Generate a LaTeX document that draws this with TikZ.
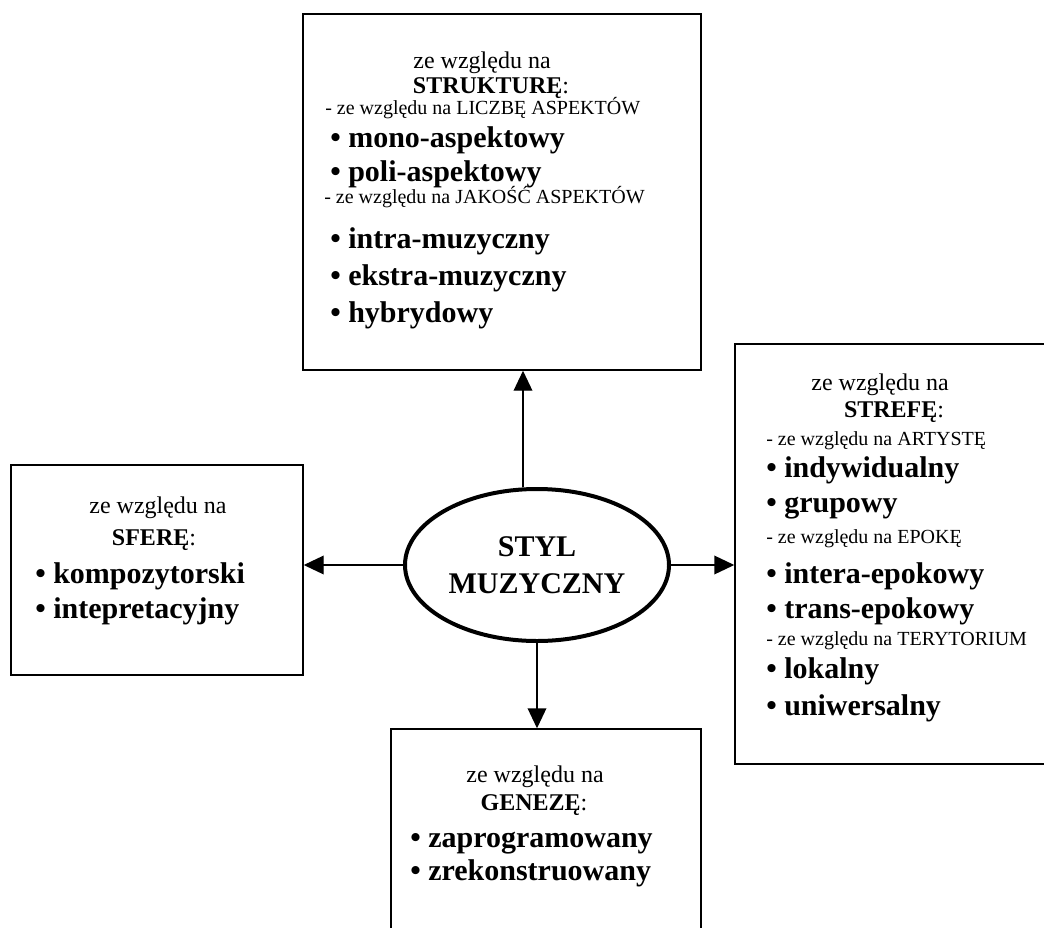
\documentclass[tikz,border=0pt]{standalone}
\usepackage{fontspec}
\setmainfont{Liberation Serif}
\usetikzlibrary{arrows.meta,shapes.geometric}
\begin{document}
\begin{tikzpicture}[x=0.75pt,y=-0.75pt,
  box/.style={draw,line width=1.1pt,rectangle,inner sep=0pt},
  oval/.style={draw,line width=3pt,ellipse,inner sep=0pt,minimum width=198pt,minimum height=114pt,align=center,font=\fontsize{22.5}{27.5}\selectfont\bfseries},
  hd/.style={anchor=base,inner sep=0pt,font=\fontsize{18}{21}\selectfont},
  sm/.style={anchor=base west,inner sep=0pt,font=\fontsize{15}{18}\selectfont},
  it/.style={anchor=base west,inner sep=0pt,font=\fontsize{22.5}{27}\selectfont\bfseries},
  arr/.style={line width=1.1pt,-{Triangle[length=15pt,width=14pt]}}]
\clip (0,0) rectangle (1044,927);
\fill[white] (0,0) rectangle (1044,927);
% boxes
\node[box,minimum width=298.5pt,minimum height=267pt] (top) at (502,192) {};
\node[box,minimum width=251.25pt,minimum height=315pt] (right) at (902.5,554) {};
\node[box,minimum width=219pt,minimum height=157.5pt] (left) at (157,570) {};
\node[box,minimum width=232.5pt,minimum height=173.25pt] (bot) at (546,844.5) {};
\node[oval] (ell) at (537,565) {STYL\\MUZYCZNY};
% arrows
\draw[arr] ([xshift=-10.5pt]ell.north) -- ([xshift=-10.5pt]ell.north |- top.south);
\draw[arr] (ell.south) -- (ell.south |- bot.north);
\draw[arr] (ell.west) -- (ell.west -| left.east);
\draw[arr] (ell.east) -- (ell.east -| right.west);
% top box text
\node[hd] (t1) at (482,69) {ze względu na};
\node[hd] (t2) at (491,94) {\textbf{STRUKTURĘ}:};
\node[sm] (t3) at (325,115) {- ze względu na LICZBĘ ASPEKTÓW};
\node[it] (t4) at (330,148) {• mono-aspektowy};
\node[it] (t5) at (330,182) {• poli-aspektowy};
\node[sm] (t6) at (324,204) {- ze względu na JAKOŚĆ ASPEKTÓW};
\node[it] (t7) at (330,248) {• intra-muzyczny};
\node[it] (t8) at (330,285) {• ekstra-muzyczny};
\node[it] (t9) at (330,322) {• hybrydowy};
% right box text
\node[hd] (r1) at (880,390) {ze względu na};
\node[hd] (r2) at (894,417) {\textbf{STREFĘ}:};
\node[sm] (r3) at (766,445) {- ze względu na ARTYSTĘ};
\node[it] (r4) at (766,477) {• indywidualny};
\node[it] (r5) at (766,512) {• grupowy};
\node[sm] (r6) at (766,543) {- ze względu na EPOKĘ};
\node[it] (r7) at (766,583) {• intera-epokowy};
\node[it] (r8) at (766,618) {• trans-epokowy};
\node[sm] (r9) at (766,645) {- ze względu na TERYTORIUM};
\node[it] (r10) at (766,678) {• lokalny};
\node[it] (r11) at (766,715) {• uniwersalny};
% left box text
\node[hd] (l1) at (158,513) {ze względu na};
\node[hd] (l2) at (154,545) {\textbf{SFERĘ}:};
\node[it] (l3) at (35,583) {• kompozytorski};
\node[it] (l4) at (35,618) {• intepretacyjny};
% bottom box text
\node[hd] (b1) at (535,782) {ze względu na};
\node[hd] (b2) at (534,810) {\textbf{GENEZĘ}:};
\node[it] (b3) at (410,847) {• zaprogramowany};
\node[it] (b4) at (410,880) {• zrekonstruowany};
\end{tikzpicture}
\end{document}
